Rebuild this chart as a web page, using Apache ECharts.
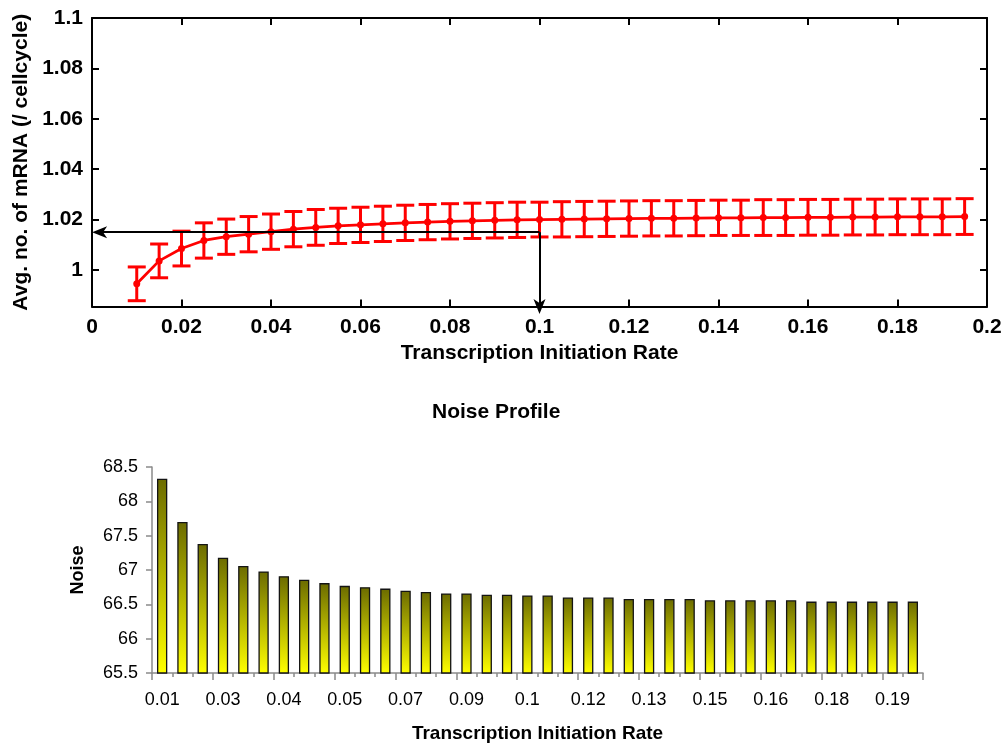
<!DOCTYPE html>
<html>
<head>
<meta charset="utf-8">
<script src="https://cdn.jsdelivr.net/npm/echarts@6/dist/echarts.min.js"></script>
<style>
  html, body { margin: 0; padding: 0; background: #ffffff; }
  #chart { width: 1007px; height: 747px; }
</style>
</head>
<body>
<div id="chart"></div>
<script>
// Transcription initiation rates (shared by both panels)
const rates = [0.010, 0.015, 0.020, 0.025, 0.030, 0.035, 0.040, 0.045, 0.050, 0.055,
               0.060, 0.065, 0.070, 0.075, 0.080, 0.085, 0.090, 0.095, 0.100, 0.105,
               0.110, 0.115, 0.120, 0.125, 0.130, 0.135, 0.140, 0.145, 0.150, 0.155,
               0.160, 0.165, 0.170, 0.175, 0.180, 0.185, 0.190, 0.195];

// Average number of mRNA per cell cycle, with half-width of the error bars
const mrnaMean = [0.9945, 1.0036, 1.0085, 1.0117, 1.0132, 1.0142, 1.0152, 1.0162, 1.0169, 1.0175,
                  1.0179, 1.0183, 1.0187, 1.0190, 1.0193, 1.0195, 1.0197, 1.0199, 1.0200, 1.0201,
                  1.0202, 1.0203, 1.0204, 1.0205, 1.0205, 1.0206, 1.0207, 1.0207, 1.0208, 1.0208,
                  1.0209, 1.0209, 1.0210, 1.0210, 1.0211, 1.0211, 1.0211, 1.0212];
const mrnaErr = [0.0067, 0.0067, 0.0069, 0.0070, 0.0070, 0.0070, 0.0070, 0.0070, 0.0071, 0.0070,
                 0.0070, 0.0070, 0.0070, 0.0070, 0.0070, 0.0070, 0.0070, 0.0070, 0.0069, 0.0070,
                 0.0070, 0.0070, 0.0070, 0.0070, 0.0070, 0.0070, 0.0070, 0.0070, 0.0071, 0.0071,
                 0.0071, 0.0071, 0.0071, 0.0071, 0.0071, 0.0071, 0.0071, 0.0071];

// Guide arrows: from (rate, level) to the y axis and down to the x axis
const guideRate = 0.1;
const guideLevel = 1.015;
const mrnaAxisMin = 0.9855;
const mrnaAxisMax = 1.1;

// Noise per initiation rate
const noiseValues = [68.32, 67.69, 67.37, 67.17, 67.05, 66.97, 66.90, 66.85, 66.80, 66.76,
                     66.74, 66.72, 66.69, 66.67, 66.65, 66.65, 66.63, 66.63, 66.62, 66.62,
                     66.59, 66.59, 66.59, 66.57, 66.57, 66.57, 66.57, 66.55, 66.55, 66.55,
                     66.55, 66.55, 66.53, 66.53, 66.53, 66.53, 66.53, 66.53];
// Labels shown under every third bar
const noiseTickLabels = ['0.01', '0.03', '0.04', '0.05', '0.07', '0.09', '0.1',
                         '0.12', '0.13', '0.15', '0.16', '0.18', '0.19'];
const noiseMin = 65.5, noiseMax = 68.5, noiseStep = 0.5;

const FONT = 'Liberation Sans, Arial, sans-serif';
const chart = echarts.init(document.getElementById('chart'), null, { renderer: 'canvas' });

const boxLine = { color: '#000', width: 2 };
const greyLine = { color: '#8a8a8a', width: 1.5 };
const arrowHead = 'path://M0,0 L6,15 L0,11 L-6,15 Z';

const mrnaPoints = rates.map((r, i) => [r, mrnaMean[i]]);
const mrnaBars = rates.map((r, i) => [r, mrnaMean[i] - mrnaErr[i], mrnaMean[i] + mrnaErr[i]]);
const noiseCats = rates.map(r => r.toFixed(3));
const noisePoints = noiseValues.map((v, i) => [i, v]);

const topValueX = {
  type: 'value', min: 0, max: 0.2, interval: 0.02, gridIndex: 0,
  splitLine: { show: false },
  axisLine: { show: true, onZero: false, lineStyle: boxLine },
  axisTick: { show: true, inside: true, length: 7, lineStyle: boxLine }
};
const topValueY = {
  type: 'value', min: mrnaAxisMin, max: mrnaAxisMax, splitNumber: 5, gridIndex: 0,
  splitLine: { show: false },
  axisLine: { show: true, onZero: false, lineStyle: boxLine },
  axisTick: { show: true, inside: true, length: 7, lineStyle: boxLine }
};

const option = {
  animation: false,
  backgroundColor: '#ffffff',
  title: {
    text: 'Noise Profile',
    left: 427, top: 397,
    textStyle: { fontFamily: FONT, fontWeight: 'bold', fontSize: 21, color: '#000' }
  },
  grid: [
    { left: 92, top: 18, width: 895, height: 288.5 },
    { left: 152, top: 467, width: 771, height: 206 }
  ],
  xAxis: [
    Object.assign({}, topValueX, {
      position: 'bottom',
      axisLabel: { color: '#000', fontFamily: FONT, fontWeight: 'bold', fontSize: 21, margin: 10 },
      name: 'Transcription Initiation Rate', nameLocation: 'middle', nameGap: 36,
      nameTextStyle: { color: '#000', fontFamily: FONT, fontWeight: 'bold', fontSize: 21 }
    }),
    Object.assign({}, topValueX, { position: 'top', axisLabel: { show: false } }),
    {
      type: 'category', gridIndex: 1, data: noiseCats, position: 'bottom',
      axisLine: { show: true, lineStyle: greyLine },
      axisTick: { show: true, interval: 0, length: 4, lineStyle: greyLine },
      axisLabel: {
        interval: 2, margin: 18, color: '#000', fontFamily: FONT, fontSize: 18,
        formatter: (v, i) => noiseTickLabels[Math.round(i / 3)] || ''
      },
      name: 'Transcription Initiation Rate', nameLocation: 'middle', nameGap: 51,
      nameTextStyle: { color: '#000', fontFamily: FONT, fontWeight: 'bold', fontSize: 19 }
    },
    {
      type: 'category', gridIndex: 1, data: noiseCats, position: 'bottom',
      axisLine: { show: false },
      axisTick: { show: true, interval: 2, length: 7, lineStyle: greyLine },
      axisLabel: { show: false }
    }
  ],
  yAxis: [
    Object.assign({}, topValueY, {
      position: 'left',
      axisLabel: { color: '#000', fontFamily: FONT, fontWeight: 'bold', fontSize: 21, margin: 9, showMinLabel: false },
      name: 'Avg. no. of mRNA (/ cellcycle)', nameLocation: 'middle', nameGap: 60,
      nameTextStyle: { color: '#000', fontFamily: FONT, fontWeight: 'bold', fontSize: 21 }
    }),
    Object.assign({}, topValueY, { position: 'right', axisLabel: { show: false } }),
    {
      type: 'value', gridIndex: 1, min: noiseMin, max: noiseMax, interval: noiseStep,
      splitLine: { show: false },
      axisLine: { show: true, onZero: false, lineStyle: greyLine },
      axisTick: { show: true, length: 6, lineStyle: greyLine },
      axisLabel: { color: '#000', fontFamily: FONT, fontSize: 18, margin: 14 },
      name: 'Noise', nameLocation: 'middle', nameGap: 65,
      nameTextStyle: { color: '#000', fontFamily: FONT, fontWeight: 'bold', fontSize: 18 }
    }
  ],
  series: [
    {
      // error bars of the mean mRNA count
      type: 'custom', xAxisIndex: 0, yAxisIndex: 0, z: 2,
      data: mrnaBars,
      encode: { x: 0, y: [1, 2] },
      renderItem: (params, api) => {
        const x = api.value(0);
        const lo = api.coord([x, api.value(1)]);
        const hi = api.coord([x, api.value(2)]);
        const cap = 9;
        const style = { stroke: '#ff0000', lineWidth: 3 };
        return {
          type: 'group',
          children: [
            { type: 'line', shape: { x1: lo[0], y1: lo[1], x2: hi[0], y2: hi[1] }, style },
            { type: 'line', shape: { x1: lo[0] - cap, y1: lo[1], x2: lo[0] + cap, y2: lo[1] }, style },
            { type: 'line', shape: { x1: hi[0] - cap, y1: hi[1], x2: hi[0] + cap, y2: hi[1] }, style }
          ]
        };
      }
    },
    {
      type: 'line', xAxisIndex: 0, yAxisIndex: 0, z: 3, clip: false,
      data: mrnaPoints,
      symbol: 'circle', symbolSize: 7,
      lineStyle: { color: '#ff0000', width: 2.8 },
      itemStyle: { color: '#ff0000' },
      markLine: {
        silent: true, animation: false,
        symbol: ['none', arrowHead], symbolSize: [12, 15],
        lineStyle: { color: '#000', width: 2, type: 'solid' },
        label: { show: false },
        emphasis: { disabled: true },
        data: [
          [{ coord: [guideRate, guideLevel] }, { coord: [0.0017, guideLevel] }],
          [{ coord: [guideRate, guideLevel] }, { coord: [guideRate, mrnaAxisMin] }]
        ]
      }
    },
    {
      // noise bars, each shaded from olive at the top to yellow at the base
      type: 'custom', xAxisIndex: 2, yAxisIndex: 2,
      data: noisePoints,
      encode: { x: 0, y: 1 },
      renderItem: (params, api) => {
        const top = api.coord([api.value(0), api.value(1)]);
        const base = api.coord([api.value(0), noiseMin]);
        const w = 9;
        return {
          type: 'rect',
          shape: { x: top[0] - w / 2, y: top[1], width: w, height: base[1] - top[1] },
          style: {
            fill: {
              type: 'linear', x: 0, y: 0, x2: 0, y2: 1,
              colorStops: [
                { offset: 0, color: '#6b6b00' },
                { offset: 1, color: '#ffff00' }
              ]
            },
            stroke: '#141414', lineWidth: 1.3
          }
        };
      }
    }
  ]
};

chart.setOption(option);
</script>
</body>
</html>
